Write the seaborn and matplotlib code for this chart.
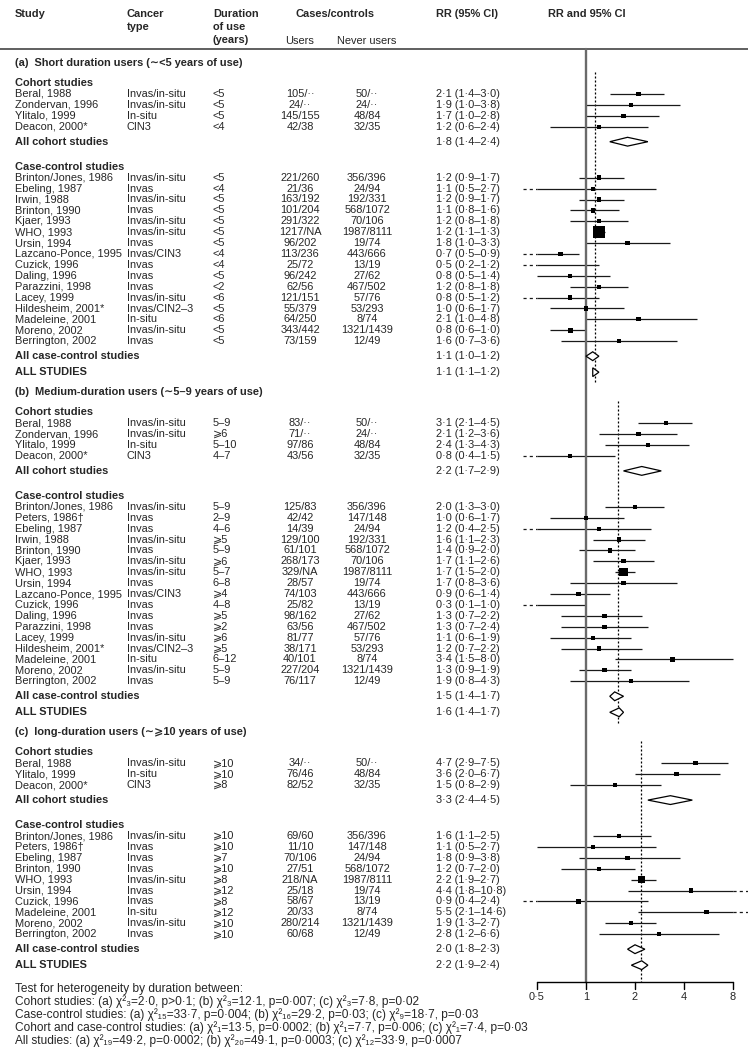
import numpy as np
import matplotlib
matplotlib.use("Agg")
import matplotlib.pyplot as plt
import seaborn as sns
from matplotlib.patches import Polygon

# ── data ──────────────────────────────────────────────────────────────────────
DOTS = "\u00b7\u00b7"
A_STUDY = ["Beral, 1988", "Zondervan, 1996", "Ylitalo, 1999", "Deacon, 2000*",
           "Brinton/Jones, 1986", "Ebeling, 1987", "Irwin, 1988", "Brinton, 1990",
           "Kjaer, 1993", "WHO, 1993", "Ursin, 1994", "Lazcano-Ponce, 1995",
           "Cuzick, 1996", "Daling, 1996", "Parazzini, 1998", "Lacey, 1999",
           "Hildesheim, 2001*", "Madeleine, 2001", "Moreno, 2002", "Berrington, 2002"]
A_TYPE = ["Invas/in-situ", "Invas/in-situ", "In-situ", "CIN3",
          "Invas/in-situ", "Invas", "Invas/in-situ", "Invas", "Invas/in-situ",
          "Invas/in-situ", "Invas", "Invas/CIN3", "Invas", "Invas", "Invas",
          "Invas/in-situ", "Invas/CIN2\u20133", "In-situ", "Invas/in-situ", "Invas"]
A_DUR = ["<5", "<5", "<5", "<4", "<5", "<4", "<5", "<5", "<5", "<5", "<5", "<4",
         "<4", "<5", "<2", "<6", "<5", "<6", "<5", "<5"]
A_USERS = ["105/" + DOTS, "24/" + DOTS, "145/155", "42/38", "221/260", "21/36",
           "163/192", "101/204", "291/322", "1217/NA", "96/202", "113/236", "25/72",
           "96/242", "62/56", "121/151", "55/379", "64/250", "343/442", "73/159"]
A_NEVER = ["50/" + DOTS, "24/" + DOTS, "48/84", "32/35", "356/396", "24/94",
           "192/331", "568/1072", "70/106", "1987/8111", "19/74", "443/666", "13/19",
           "27/62", "467/502", "57/76", "53/293", "8/74", "1321/1439", "12/49"]
A_RR = [2.1, 1.9, 1.7, 1.2, 1.2, 1.1, 1.2, 1.1, 1.2, 1.2, 1.8, 0.7, 0.48, 0.8, 1.2,
        0.8, 1.0, 2.1, 0.8, 1.6]
A_LO = [1.4, 1.0, 1.0, 0.6, 0.9, 0.48, 0.9, 0.8, 0.8, 1.1, 1.0, 0.48, 0.2, 0.5, 0.8,
        0.48, 0.6, 1.0, 0.6, 0.7]
A_HI = [3.0, 3.8, 2.8, 2.4, 1.7, 2.7, 1.7, 1.6, 1.8, 1.3, 3.3, 0.9, 1.2, 1.4, 1.8,
        1.2, 1.7, 4.8, 1.0, 3.6]
A_N_COHORT = 4
A_POOL_RR = [1.8, 1.1, 1.1]
A_POOL_LO = [1.4, 1.0, 1.1]
A_POOL_HI = [2.4, 1.2, 1.2]

B_STUDY = ["Beral, 1988", "Zondervan, 1996", "Ylitalo, 1999", "Deacon, 2000*",
           "Brinton/Jones, 1986", "Peters, 1986\u2020", "Ebeling, 1987", "Irwin, 1988",
           "Brinton, 1990", "Kjaer, 1993", "WHO, 1993", "Ursin, 1994",
           "Lazcano-Ponce, 1995", "Cuzick, 1996", "Daling, 1996", "Parazzini, 1998",
           "Lacey, 1999", "Hildesheim, 2001*", "Madeleine, 2001", "Moreno, 2002",
           "Berrington, 2002"]
B_TYPE = ["Invas/in-situ", "Invas/in-situ", "In-situ", "CIN3",
          "Invas/in-situ", "Invas", "Invas", "Invas/in-situ", "Invas", "Invas/in-situ",
          "Invas/in-situ", "Invas", "Invas/CIN3", "Invas", "Invas", "Invas",
          "Invas/in-situ", "Invas/CIN2\u20133", "In-situ", "Invas/in-situ", "Invas"]
B_DUR = ["5\u20139", "\u2a7e6", "5\u201310", "4\u20137", "5\u20139", "2\u20139",
         "4\u20136", "\u2a7e5", "5\u20139", "\u2a7e6", "5\u20137", "6\u20138", "\u2a7e4",
         "4\u20138", "\u2a7e5", "\u2a7e2", "\u2a7e6", "\u2a7e5", "6\u201312", "5\u20139",
         "5\u20139"]
B_USERS = ["83/" + DOTS, "71/" + DOTS, "97/86", "43/56", "125/83", "42/42", "14/39",
           "129/100", "61/101", "268/173", "329/NA", "28/57", "74/103", "25/82",
           "98/162", "63/56", "81/77", "38/171", "40/101", "227/204", "76/117"]
B_NEVER = ["50/" + DOTS, "24/" + DOTS, "48/84", "32/35", "356/396", "147/148", "24/94",
           "192/331", "568/1072", "70/106", "1987/8111", "19/74", "443/666", "13/19",
           "27/62", "467/502", "57/76", "53/293", "8/74", "1321/1439", "12/49"]
B_RR = [3.1, 2.1, 2.4, 0.8, 2.0, 1.0, 1.2, 1.6, 1.4, 1.7, 1.7, 1.7, 0.9, 0.3, 1.3,
        1.3, 1.1, 1.2, 3.4, 1.3, 1.9]
B_LO = [2.1, 1.2, 1.3, 0.4, 1.3, 0.6, 0.4, 1.1, 0.9, 1.1, 1.5, 0.8, 0.6, 0.1, 0.7,
        0.7, 0.6, 0.7, 1.5, 0.9, 0.8]
B_HI = [4.5, 3.6, 4.3, 1.5, 3.0, 1.7, 2.5, 2.3, 2.0, 2.6, 2.0, 3.6, 1.4, 1.0, 2.2,
        2.4, 1.9, 2.2, 8.0, 1.9, 4.3]
B_N_COHORT = 4
B_POOL_RR = [2.2, 1.5, 1.6]
B_POOL_LO = [1.7, 1.4, 1.4]
B_POOL_HI = [2.9, 1.7, 1.7]

C_STUDY = ["Beral, 1988", "Ylitalo, 1999", "Deacon, 2000*",
           "Brinton/Jones, 1986", "Peters, 1986\u2020", "Ebeling, 1987", "Brinton, 1990",
           "WHO, 1993", "Ursin, 1994", "Cuzick, 1996", "Madeleine, 2001",
           "Moreno, 2002", "Berrington, 2002"]
C_TYPE = ["Invas/in-situ", "In-situ", "CIN3", "Invas/in-situ", "Invas", "Invas",
          "Invas", "Invas/in-situ", "Invas", "Invas", "In-situ", "Invas/in-situ", "Invas"]
C_DUR = ["\u2a7e10", "\u2a7e10", "\u2a7e8", "\u2a7e10", "\u2a7e10", "\u2a7e7",
         "\u2a7e10", "\u2a7e8", "\u2a7e12", "\u2a7e8", "\u2a7e12", "\u2a7e10", "\u2a7e10"]
C_USERS = ["34/" + DOTS, "76/46", "82/52", "69/60", "11/10", "70/106", "27/51",
           "218/NA", "25/18", "58/67", "20/33", "280/214", "60/68"]
C_NEVER = ["50/" + DOTS, "48/84", "32/35", "356/396", "147/148", "24/94", "568/1072",
           "1987/8111", "19/74", "13/19", "8/74", "1321/1439", "12/49"]
C_RR = [4.7, 3.6, 1.5, 1.6, 1.1, 1.8, 1.2, 2.2, 4.4, 0.9, 5.5, 1.9, 2.8]
C_LO = [2.9, 2.0, 0.8, 1.1, 0.5, 0.9, 0.7, 1.9, 1.8, 0.4, 2.1, 1.3, 1.2]
C_HI = [7.5, 6.7, 2.9, 2.5, 2.7, 3.8, 2.0, 2.7, 10.8, 2.4, 14.6, 2.7, 6.6]
C_N_COHORT = 3
C_POOL_RR = [3.3, 2.0, 2.2]
C_POOL_LO = [2.4, 1.8, 1.9]
C_POOL_HI = [4.5, 2.3, 2.4]

SECTION_TITLES = ["(a)  Short duration users (\u223c<5 years of use)",
                  "(b)  Medium-duration users (\u223c5\u20139 years of use)",
                  "(c)  long-duration users (\u223c\u2a7e10 years of use)"]
POOL_LABELS = ["All cohort studies", "All case-control studies", "ALL STUDIES"]
REF_LINE = [1.14, 1.57, 2.17]   # dotted line at overall estimate
AXIS_TICKS = [0.5, 1, 2, 4, 8]
AXIS_LABELS = ["0\u00b75", "1", "2", "4", "8"]

# heterogeneity tests: (df, chi2, p) for (a), (b), (c)
HET_GROUPS = ["Cohort studies", "Case-control studies",
              "Cohort and case-control studies", "All studies"]
HET_DF = [[3, 3, 3], [15, 16, 9], [1, 1, 1], [19, 20, 12]]
HET_CHI = [["2\u00b70", "12\u00b71", "7\u00b78"], ["33\u00b77", "29\u00b72", "18\u00b77"],
           ["13\u00b75", "7\u00b77", "7\u00b74"], ["49\u00b72", "49\u00b71", "33\u00b79"]]
HET_P = [["p>0\u00b71", "p=0\u00b7007", "p=0\u00b702"],
         ["p=0\u00b7004", "p=0\u00b703", "p=0\u00b703"],
         ["p=0\u00b70002", "p=0\u00b7006", "p=0\u00b703"],
         ["p=0\u00b70002", "p=0\u00b70003", "p=0\u00b70007"]]

sections = [
    (A_STUDY, A_TYPE, A_DUR, A_USERS, A_NEVER, A_RR, A_LO, A_HI, A_N_COHORT,
     A_POOL_RR, A_POOL_LO, A_POOL_HI),
    (B_STUDY, B_TYPE, B_DUR, B_USERS, B_NEVER, B_RR, B_LO, B_HI, B_N_COHORT,
     B_POOL_RR, B_POOL_LO, B_POOL_HI),
    (C_STUDY, C_TYPE, C_DUR, C_USERS, C_NEVER, C_RR, C_LO, C_HI, C_N_COHORT,
     C_POOL_RR, C_POOL_LO, C_POOL_HI),
]

# ── style ─────────────────────────────────────────────────────────────────────
sns.set_theme(style="white")
plt.rcParams["font.family"] = ["Liberation Sans", "DejaVu Sans"]
FS = 7.9
FS_FOOT = 8.6

W, H = 748, 1049
fig = plt.figure(figsize=(W / 100, H / 100), dpi=100)
tx = fig.add_axes([0, 0, 1, 1])
tx.set_xlim(0, W)
tx.set_ylim(H, 0)
tx.axis("off")

# forest axes: log2 scale, 1 at px 586, 49 px per doubling
X0, X1, P1, PPD = 520, 748, 586, 49.0
def px2v(p):
    return 2 ** ((p - P1) / PPD)

fx = fig.add_axes([X0 / W, 0, (X1 - X0) / W, 1])
fx.set_xscale("log", base=2)
fx.set_xlim(px2v(X0), px2v(X1))
fx.set_ylim(H, 0)
fx.axis("off")
fx.patch.set_alpha(0)

COL_STUDY, COL_TYPE, COL_DUR, COL_USERS, COL_NEVER, COL_RR = 15, 127, 213, 300, 367, 436
LO_CLIP, HI_CLIP = 0.5, 8.0
LINE_C = "#1a1a1a"
SUB = str.maketrans("0123456789", "\u2080\u2081\u2082\u2083\u2084\u2085\u2086\u2087\u2088\u2089")


def fmt(v):
    return f"{v:.1f}".replace(".", "\u00b7")


def rr_text(r, l, h):
    return f"{fmt(r)} ({fmt(l)}\u2013{fmt(h)})"


def ci(y, lo, hi):
    fx.plot([max(lo, LO_CLIP), min(hi, HI_CLIP)], [y, y], color=LINE_C, lw=0.9,
            solid_capstyle="butt")
    if lo < LO_CLIP:
        fx.plot([px2v(523), LO_CLIP], [y, y], color=LINE_C, lw=0.9, ls=(0, (2.5, 2.5)))
    if hi > HI_CLIP:
        fx.plot([HI_CLIP, px2v(748)], [y, y], color=LINE_C, lw=0.9, ls=(0, (2.5, 2.5)))


def diamond(y, r, lo, hi, h=4.4):
    fx.add_patch(Polygon([(lo, y), (r, y - h), (hi, y), (r, y + h)], closed=True,
                         facecolor="white", edgecolor="black", lw=0.9, zorder=4))


# ── header ────────────────────────────────────────────────────────────────────
hb = dict(fontsize=FS, fontweight="bold", va="center")
tx.text(COL_STUDY, 14, "Study", **hb)
tx.text(COL_TYPE, 14, "Cancer", **hb)
tx.text(COL_TYPE, 27, "type", **hb)
tx.text(COL_DUR, 14, "Duration", **hb)
tx.text(COL_DUR, 27, "of use", **hb)
tx.text(COL_DUR, 40, "(years)", **hb)
tx.text(335, 14, "Cases/controls", ha="center", **hb)
tx.text(COL_USERS, 41, "Users", ha="center", fontsize=FS, va="center")
tx.text(COL_NEVER, 41, "Never users", ha="center", fontsize=FS, va="center")
tx.text(COL_RR, 14, "RR (95% CI)", **hb)
tx.text(548, 14, "RR and 95% CI", **hb)
tx.plot([0, W], [49, 49], color="#444444", lw=1.2)

# ── body ──────────────────────────────────────────────────────────────────────
STEP = 10.9
y = 63.0
rows_x, rows_y, rows_s = [], [], []
for si, (study, ctype, dur, users, never, rr, lo, hi, ncoh,
         prr, plo, phi) in enumerate(sections):
    tx.text(COL_STUDY, y, SECTION_TITLES[si], **hb)
    y_start = y + 9
    y += 20
    groups = [(0, ncoh, "Cohort studies"), (ncoh, len(study), "Case-control studies")]
    for gi, (a, b, title) in enumerate(groups):
        tx.text(COL_STUDY, y, title, **hb)
        y += 11
        for i in range(a, b):
            tx.text(COL_STUDY, y, study[i], fontsize=FS, va="center")
            tx.text(COL_TYPE, y, ctype[i], fontsize=FS, va="center")
            tx.text(COL_DUR, y, dur[i], fontsize=FS, va="center")
            tx.text(COL_USERS, y, users[i], fontsize=FS, va="center", ha="center")
            tx.text(COL_NEVER, y, never[i], fontsize=FS, va="center", ha="center")
            tx.text(COL_RR, y, rr_text(rr[i], lo[i], hi[i]), fontsize=FS, va="center")
            ci(y, lo[i], hi[i])
            if rr[i] >= LO_CLIP:
                se = (np.log(hi[i]) - np.log(lo[i])) / 3.92
                side = max(4.2, 1.3 * (1 / se ** 2) ** 0.35)
                rows_x.append(rr[i]); rows_y.append(y); rows_s.append((side * 0.72) ** 2)
            y += STEP
        y += 15 - STEP
        tx.text(COL_STUDY, y, POOL_LABELS[gi], **hb)
        tx.text(COL_RR, y, rr_text(prr[gi], plo[gi], phi[gi]), fontsize=FS, va="center")
        diamond(y, prr[gi], plo[gi], phi[gi])
        if gi == 0:
            y += 25
    y += 16
    tx.text(COL_STUDY, y, POOL_LABELS[2], **hb)
    tx.text(COL_RR, y, rr_text(prr[2], plo[2], phi[2]), fontsize=FS, va="center")
    diamond(y, prr[2], plo[2], phi[2])
    y_end = y + 12 if si < 2 else 982
    fx.plot([REF_LINE[si]] * 2, [y_start, y_end], color="black", lw=0.9,
            ls=(0, (1.6, 1.6)), zorder=1)
    y += 20

sns.scatterplot(x=rows_x, y=rows_y, s=rows_s, marker="s", color="black",
                linewidth=0, ax=fx, legend=False, zorder=5)

# line of no effect and axis
fx.plot([1, 1], [49, 982], color="#6a6a6a", lw=1.7, zorder=2)
AXIS_Y = 982
fx.plot([AXIS_TICKS[0], AXIS_TICKS[-1]], [AXIS_Y, AXIS_Y], color="black", lw=1.0)
for v, lab in zip(AXIS_TICKS, AXIS_LABELS):
    fx.plot([v, v], [AXIS_Y, AXIS_Y + 7], color="black", lw=1.0)
    fx.text(v, AXIS_Y + 15, lab, ha="center", va="center", fontsize=FS)
fx.set_ylim(H, 0)
fx.set_xlim(px2v(X0), px2v(X1))

# footer
tx.text(COL_STUDY, 989, "Test for heterogeneity by duration between:", fontsize=FS_FOOT,
        va="center")
for k, grp in enumerate(HET_GROUPS):
    parts = [f"({lab}) \u03c7\u00b2{str(HET_DF[k][j]).translate(SUB)}={HET_CHI[k][j]}, "
             f"{HET_P[k][j]}" for j, lab in enumerate("abc")]
    tx.text(COL_STUDY, 1002 + 13 * k, f"{grp}: " + "; ".join(parts), fontsize=FS_FOOT,
            va="center")

fig.savefig("out.png", dpi=100)
